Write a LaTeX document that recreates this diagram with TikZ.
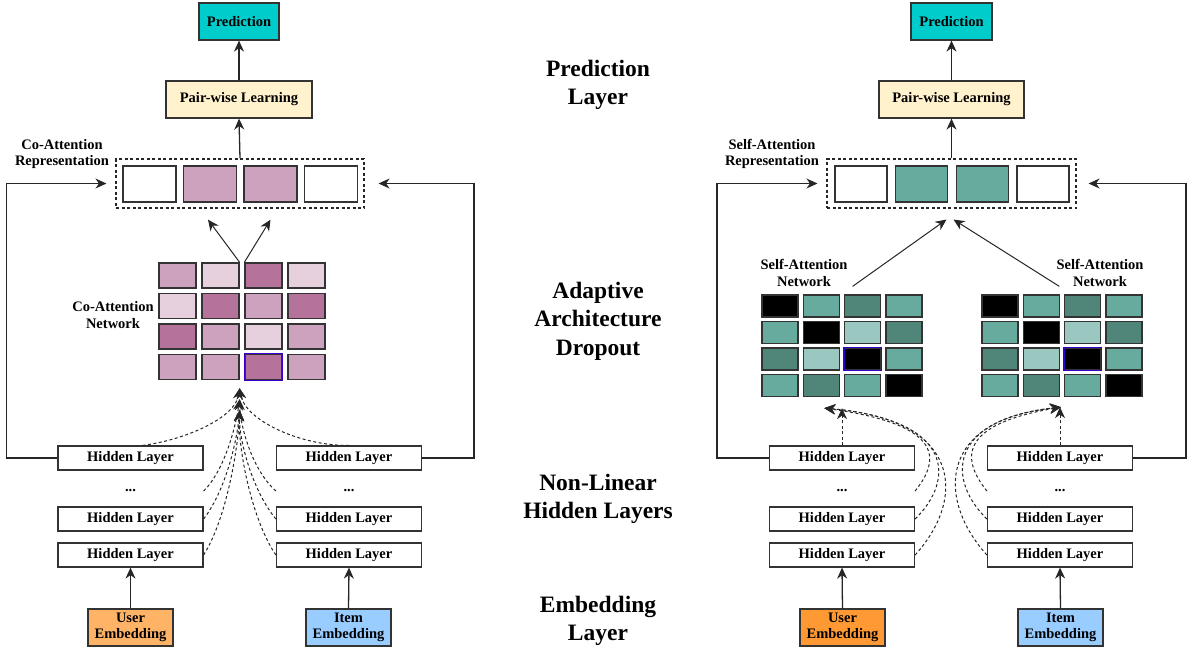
\documentclass[tikz,border=0pt]{standalone}
\usepackage{fontspec}
\setmainfont{Liberation Serif}
\usetikzlibrary{positioning, arrows.meta}

\definecolor{predTeal}{RGB}{0,204,204}
\definecolor{pairYel}{RGB}{255,242,204}
\definecolor{coMid}{RGB}{205,162,190}
\definecolor{coDar}{RGB}{181,115,155}
\definecolor{coLig}{RGB}{230,208,222}
\definecolor{sMid}{RGB}{103,171,159}
\definecolor{sDar}{RGB}{80,133,122}
\definecolor{sLig}{RGB}{154,199,191}
\definecolor{sBlk}{RGB}{0,0,0}
\definecolor{userA}{RGB}{255,179,102}
\definecolor{userB}{RGB}{255,153,51}
\definecolor{itemBlue}{RGB}{153,204,255}
\definecolor{blueEdge}{RGB}{51,0,204}

\newcommand{\boxfont}{\fontsize{14.5}{16.5}\selectfont\bfseries}
\newcommand{\layerfont}{\fontsize{23.5}{28.5}\selectfont\bfseries}

\begin{document}
\begin{tikzpicture}[x=1pt, y=-1pt,
	box/.style={draw=black!80, line width=1.2pt, inner sep=0pt, align=center, font=\boxfont},
	hidden/.style={box, minimum width=145pt, minimum height=24pt},
	embbox/.style={box, minimum width=85pt, minimum height=37pt},
	lbl/.style={align=center, font=\boxfont, inner sep=0pt},
	cell/.style={draw=black!80, line width=1.3pt, minimum width=37pt, minimum height=25pt, inner sep=0pt},
	scell/.style={cell, minimum width=36pt, minimum height=22pt},
	repcell/.style={cell, minimum width=53pt, minimum height=36pt},
	dashbox/.style={draw=black!85, line width=1.1pt, dash pattern=on 3pt off 2.5pt, minimum width=248pt, minimum height=49pt},
	arr/.style={-{Stealth[length=11pt,width=10pt,inset=3.5pt]}, line width=1.3pt, black!85},
	dasharr/.style={arr, dash pattern=on 3pt off 2.5pt, line width=1pt}]
	\useasboundingbox (0,0) rectangle (1188,649);

	% Etiquetas de las capas
	\node[align=center, font=\layerfont] (lyPred) at (598,85) {Prediction\\Layer};
	\node[align=center, font=\layerfont] (lyDrop) at (598,321) {Adaptive\\Architecture\\Dropout};
	\node[align=center, font=\layerfont] (lyHid) at (598,499) {Non-Linear\\Hidden Layers};
	\node[align=center, font=\layerfont] (lyEmb) at (598,621) {Embedding\\Layer};

	% ---------------- Co-Attention (izquierda) ----------------
	\node[box, fill=predTeal, minimum width=80pt, minimum height=37pt] (predA) at (239,21.5) {Prediction};
	\node[box, fill=pairYel, minimum width=146pt, minimum height=37pt] (pwA) at (239,99.5) {Pair-wise Learning};
	\node[dashbox] (repA) at (240,183.5) {};
	\foreach \k [count=\i] in {white,coMid,coMid,white} {
		\node[repcell, fill=\k] (rA\i) at ({149.5+60.5*(\i-1)},184) {};
	}
	\node[lbl] (repALbl) at (62,154) {Co-Attention\\Representation};
	\draw[arr] (repA.north) -- (pwA.south);
	\draw[arr] (pwA.north) -- (predA.south);

	% Red de co-atencion
	\foreach \fila [count=\r] in {{coMid,coLig,coDar,coLig},{coLig,coDar,coMid,coDar},{coDar,coMid,coLig,coMid},{coMid,coMid,coDar,coMid}} {
		\foreach \k [count=\c] in \fila {
			\node[cell, fill=\k] (co-\r-\c) at ({177.5+43*(\c-1)},{275.5+30.5*(\r-1)}) {};
		}
	}
	\draw[blueEdge, line width=1.1pt] (co-4-3.south west) rectangle (co-4-3.north east);
	\node[lbl] (coNetLbl) at (113,315) {Co-Attention\\Network};
	\draw[arr, line width=1pt] (co-1-2.north east) -- ([shift={(-2pt,-17pt)}]rA2.south);
	\draw[arr, line width=1pt] (co-1-3.north west) -- ([shift={(0pt,-17pt)}]rA3.south);

	% Capas ocultas
	\node[hidden] (hlA1) at (130.5,458) {Hidden Layer};
	\node[lbl] (dotsA) at (130.5,491) {...};
	\node[hidden] (hlA2) at (130.5,519) {Hidden Layer};
	\node[hidden] (hlA3) at (130.5,555) {Hidden Layer};
	\node[hidden] (hlB1) at (349,458) {Hidden Layer};
	\node[lbl] (dotsB) at (349,491) {...};
	\node[hidden] (hlB2) at (349,519) {Hidden Layer};
	\node[hidden] (hlB3) at (349,555) {Hidden Layer};
	\node[embbox, fill=userA] (userA) at (130.5,627.5) {User\\Embedding};
	\node[embbox, fill=itemBlue] (itemA) at (348.5,627.5) {Item\\Embedding};
	\draw[arr] (userA.north) -- (hlA3.south);
	\draw[arr] (itemA.north) -- (hlB3.south);

	% Retroalimentacion
	\draw[arr] (hlA1.west) -- ++(-51,0) |- ([xshift=-9pt]repA.west);
	\draw[arr] (hlB1.east) -- ++(52,0) |- ([xshift=14pt]repA.east);

	% Conexiones punteadas
	\coordinate (coTipA) at ([yshift=-8pt]co-4-2.south east);
	\coordinate (coTipB) at ([yshift=-19pt]co-4-2.south east);
	\coordinate (coTipC) at ([yshift=-30pt]co-4-2.south east);
	\draw[dasharr] ([xshift=12pt]hlA1.north) .. controls (185,440) and (235,418) .. (coTipA);
	\draw[dasharr] (hlA2.north east |- dotsA) .. controls (225,470) and (236,425) .. (coTipB);
	\draw[dasharr] (hlA2.east) .. controls (226,490) and (237,440) .. (coTipC);
	\draw[dasharr] (hlA3.east) .. controls (226,520) and (238,450) .. (coTipC);
	\draw[dasharr] (hlB1.north) .. controls (300,446) and (245,420) .. (coTipA);
	\draw[dasharr] (hlB2.north west |- dotsB) .. controls (252,470) and (240,425) .. (coTipB);
	\draw[dasharr] (hlB2.west) .. controls (252,490) and (239,440) .. (coTipC);
	\draw[dasharr] (hlB3.west) .. controls (252,520) and (238,450) .. (coTipC);

	% ---------------- Self-Attention (derecha) ----------------
	\node[box, fill=predTeal, minimum width=81pt, minimum height=37pt] (predB) at (951.5,21.5) {Prediction};
	\node[box, fill=pairYel, minimum width=145pt, minimum height=37pt] (pwB) at (951.5,99.5) {Pair-wise Learning};
	\node[dashbox, minimum width=249pt] (repB) at (951.5,183.5) {};
	\foreach \k [count=\i] in {white,sMid,sMid,white} {
		\node[repcell, fill=\k, minimum width=52pt] (rB\i) at ({861+60.7*(\i-1)},184) {};
	}
	\node[lbl] (repBLbl) at (772,154) {Self-Attention\\Representation};
	\draw[arr] (repB.north) -- (pwB.south);
	\draw[arr] (pwB.north) -- (predB.south);

	% Redes de auto-atencion
	\foreach \g/\xo in {sL/780, sR/1000} {
		\foreach \fila [count=\r] in {{sBlk,sMid,sDar,sMid},{sMid,sBlk,sLig,sDar},{sDar,sLig,sBlk,sMid},{sMid,sDar,sMid,sBlk}} {
			\foreach \k [count=\c] in \fila {
				\node[scell, fill=\k] (\g-\r-\c) at ({\xo+41.3*(\c-1)},{306+26.5*(\r-1)}) {};
			}
		}
		\draw[blueEdge, line width=1.1pt] (\g-3-3.south west) rectangle (\g-3-3.north east);
	}
	\node[lbl] (saNetL) at (804,273) {Self-Attention\\Network};
	\node[lbl] (saNetR) at (1100,273) {Self-Attention\\Network};
	\draw[arr, line width=1pt] ([shift={(-10pt,8pt)}]sL-1-3.north) -- ([shift={(-5pt,-11pt)}]repB.south);
	\draw[arr, line width=1pt] ([shift={(18pt,8pt)}]sR-1-2.north) -- ([shift={(2pt,-11pt)}]repB.south);

	% Capas ocultas
	\node[hidden] (hlC1) at (842,458) {Hidden Layer};
	\node[lbl] (dotsC) at (842,491) {...};
	\node[hidden] (hlC2) at (842,519) {Hidden Layer};
	\node[hidden] (hlC3) at (842,555) {Hidden Layer};
	\node[hidden] (hlD1) at (1060,458) {Hidden Layer};
	\node[lbl] (dotsD) at (1060,491) {...};
	\node[hidden] (hlD2) at (1060,519) {Hidden Layer};
	\node[hidden] (hlD3) at (1060,555) {Hidden Layer};
	\node[embbox, fill=userB] (userB) at (842.5,627.5) {User\\Embedding};
	\node[embbox, fill=itemBlue] (itemB) at (1060.5,627.5) {Item\\Embedding};
	\draw[arr] (userB.north) -- (hlC3.south);
	\draw[arr] (itemB.north) -- (hlD3.south);

	% Retroalimentacion
	\draw[arr] (hlC1.west) -- ++(-52,0) |- ([xshift=-9pt]repB.west);
	\draw[arr] (hlD1.east) -- ++(53,0) |- ([xshift=12pt]repB.east);

	% Conexiones punteadas
	\coordinate (saTipL) at ([yshift=-11pt]sL-4-2.south);
	\coordinate (saTipR) at ([yshift=-10pt]sR-4-3.south west);
	\draw[dasharr] (hlC1.north) -- (hlC1.north |- saTipL);
	\draw[dasharr] (hlC2.north east |- dotsC) .. controls (940,460) and (945,425) .. ([xshift=3pt]saTipL);
	\draw[dasharr] (hlC2.east) .. controls (955,480) and (955,420) .. ([xshift=3pt]saTipL);
	\draw[dasharr] (hlC3.east) .. controls (965,500) and (965,420) .. ([xshift=3pt]saTipL);
	\draw[dasharr] (hlD1.north) -- (hlD1.north |- saTipR);
	\draw[dasharr] (hlD2.north west |- dotsD) .. controls (962,460) and (957,425) .. ([xshift=-3pt]saTipR);
	\draw[dasharr] (hlD2.west) .. controls (947,480) and (947,420) .. ([xshift=-3pt]saTipR);
	\draw[dasharr] (hlD3.west) .. controls (937,500) and (937,420) .. ([xshift=-3pt]saTipR);

\end{tikzpicture}
\end{document}
